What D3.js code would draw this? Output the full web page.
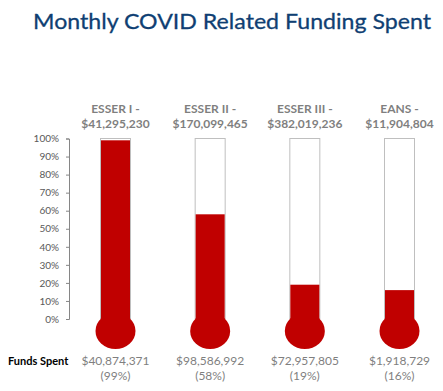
<!DOCTYPE html>
<html><head><meta charset="utf-8">
<script src="https://cdn.jsdelivr.net/npm/d3@7"></script>
<style>body{margin:0;background:#fff;}svg{display:block;}</style>
</head><body>
<svg id="c" width="443" height="391"></svg>
<script>
const categories = ["ESSER I", "ESSER II", "ESSER III", "EANS"];
const totals = ["$41,295,230", "$170,099,465", "$382,019,236", "$11,904,804"];
const spentAmounts = ["$40,874,371", "$98,586,992", "$72,957,805", "$1,918,729"];
const spentPct = [99, 58, 19, 16];
const yTicks = [0,10,20,30,40,50,60,70,80,90,100];

const svg = d3.select("#c");
const font = "Lato, 'Open Sans', sans-serif";
const red = "#C00000", gray = "#7F7F7F";

const x = d3.scalePoint().domain(categories).range([115.5, 399.5]);
const y = d3.scaleLinear().domain([0, 100]).range([319, 138.5]);
const barW = 30;

// title
svg.append("text").attr("x", 232).attr("y", 29).attr("text-anchor", "middle")
  .attr("font-family", font).attr("font-size", 22).attr("fill", "#0F3F73")
  .attr("stroke", "#0F3F73").attr("stroke-width", 0.3)
  .attr("textLength", 398).attr("lengthAdjust", "spacingAndGlyphs")
  .text("Monthly COVID Related Funding Spent");

// axis
const axis = d3.axisLeft(y).tickValues(yTicks).tickSize(3).tickPadding(7).tickFormat(d => d + "%");
const gA = svg.append("g").attr("transform", "translate(69,0)").call(axis);
gA.select(".domain").attr("stroke", "#868686");
gA.selectAll(".tick line").attr("stroke", "#868686");
gA.selectAll(".tick text").attr("font-family", font).attr("font-size", 10).attr("fill", "#595959");

const data = categories.map((c, i) => ({c, total: totals[i], spent: spentAmounts[i], pct: spentPct[i]}));

const g = svg.append("g");
g.selectAll(".tube").data(data).join("rect")
  .attr("x", d => x(d.c) - barW/2).attr("y", y(100))
  .attr("width", barW).attr("height", y(0) - y(100))
  .attr("fill", "#fff").attr("stroke", "#BFBFBF").attr("stroke-width", 1);
g.selectAll(".fill").data(data).join("rect")
  .attr("x", d => x(d.c) - barW/2 + 0.5).attr("y", d => y(d.pct))
  .attr("width", barW - 1).attr("height", d => y(0) - y(d.pct))
  .attr("fill", red);
g.selectAll(".bulb").data(data).join("ellipse")
  .attr("cx", d => x(d.c)).attr("cy", y(0) + 12)
  .attr("rx", 20).attr("ry", 18).attr("fill", red);

const topG = svg.append("g");
topG.selectAll(".l1").data(data).join("text")
  .attr("x", d => x(d.c)).attr("y", 113).attr("text-anchor", "middle")
  .attr("font-family", font).attr("font-weight", 700).attr("font-size", 12).attr("fill", gray)
  .text(d => d.c + " -");
topG.selectAll(".l2").data(data).join("text")
  .attr("x", d => x(d.c)).attr("y", 128).attr("text-anchor", "middle")
  .attr("font-family", font).attr("font-weight", 700).attr("font-size", 12).attr("fill", gray)
  .text(d => d.total);

const botG = svg.append("g");
botG.selectAll(".b1").data(data).join("text")
  .attr("x", d => x(d.c)).attr("y", 365).attr("text-anchor", "middle")
  .attr("font-family", font).attr("font-size", 12).attr("fill", gray)
  .text(d => d.spent);
botG.selectAll(".b2").data(data).join("text")
  .attr("x", d => x(d.c)).attr("y", 380).attr("text-anchor", "middle")
  .attr("font-family", font).attr("font-size", 12).attr("fill", gray)
  .text(d => "(" + d.pct + "%)");

svg.append("text").attr("x", 8).attr("y", 365)
  .attr("font-family", font).attr("font-weight", 700).attr("font-size", 11).attr("fill", "#000")
  .text("Funds Spent");
</script>
</body></html>
